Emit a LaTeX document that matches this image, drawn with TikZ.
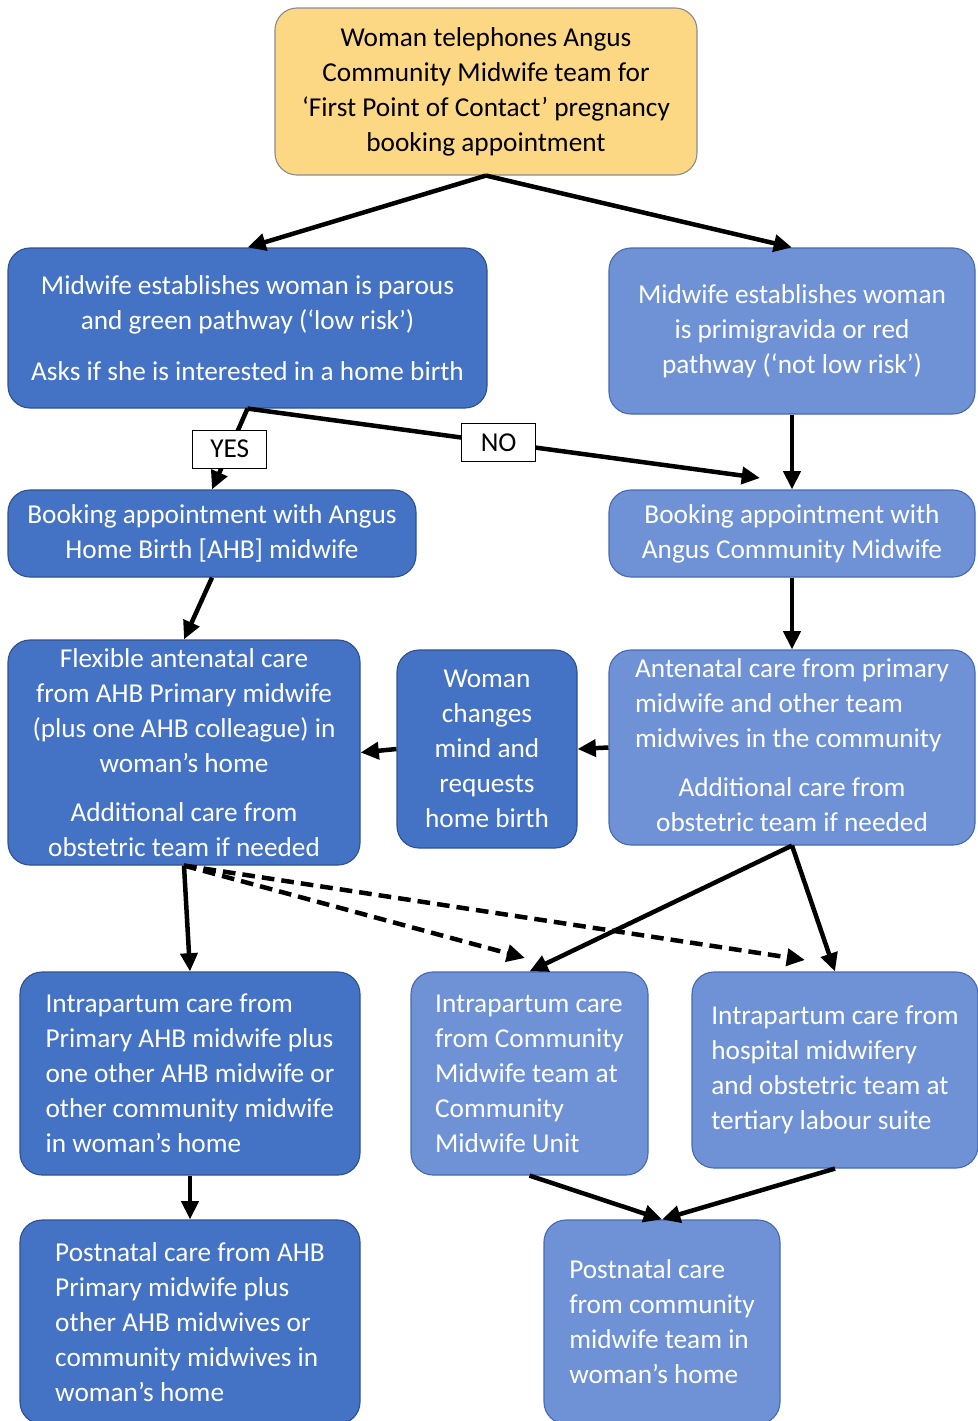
\documentclass[tikz,border=0pt]{standalone}
\usepackage{fontspec}
\setmainfont{Carlito}
\usetikzlibrary{arrows.meta}

\definecolor{startfill}{RGB}{253,216,132}
\definecolor{startline}{RGB}{140,140,140}
\definecolor{darkfill}{RGB}{68,114,196}
\definecolor{darkline}{RGB}{47,82,143}
\definecolor{lightfill}{RGB}{111,146,214}
\definecolor{lightline}{RGB}{72,106,176}

\begin{document}
\begin{tikzpicture}[
        x=0.025cm, y=-0.025cm,
        every node/.style={font=\fontsize{19.4}{24.9}\selectfont, inner sep=2pt},
        boxsize/.style 2 args={minimum width=#1*0.025cm, minimum height=#2*0.025cm},
        start/.style={rectangle, rounded corners=0.55cm, draw=startline, fill=startfill, text=black, align=center, line width=0.8pt},
        darkbox/.style={rectangle, rounded corners=0.55cm, draw=darkline, fill=darkfill, text=white, align=center, line width=0.8pt},
        lightbox/.style={rectangle, rounded corners=0.55cm, draw=lightline, fill=lightfill, text=white, align=center, line width=0.8pt},
        choice/.style={rectangle, draw, fill=white, text=black, line width=0.6pt, minimum width=1.85cm, minimum height=0.95cm},
        line/.style={line width=3.2pt, -{Triangle[length=13pt, width=12pt]}},
        dline/.style={line, dash pattern=on 9pt off 5pt}
    ]
        \useasboundingbox (0,0) rectangle (978,1421);

        % First contact
        \node[start, boxsize={422}{167}] (first) at (486,91.5) {Woman telephones Angus\\ Community Midwife team for\\ ‘First Point of Contact’ pregnancy\\ booking appointment};

        % Risk assessment
        \node[darkbox, boxsize={479}{160}] (parous) at (247.5,328) {Midwife establishes woman is parous\\ and green pathway (‘low risk’)\\[11pt] Asks if she is interested in a home birth};
        \node[lightbox, boxsize={366}{166}] (primi) at (792,331) {Midwife establishes woman\\ is primigravida or red\\ pathway (‘not low risk’)};

        % Booking
        \node[darkbox, boxsize={408}{87}] (bookahb) at (212,533.5) {Booking appointment with Angus\\ Home Birth [AHB] midwife};
        \node[lightbox, boxsize={366}{87}] (bookacm) at (792,533.5) {Booking appointment with\\ Angus Community Midwife};
        \coordinate (noend) at (760,478);

        % Antenatal
        \node[darkbox, boxsize={352}{225}] (flexible) at (184,752.5) {Flexible antenatal care\\ from AHB Primary midwife\\ (plus one AHB colleague) in\\ woman’s home\\[10pt] Additional care from\\ obstetric team if needed};
        \node[darkbox, boxsize={180}{198}] (changes) at (487,749) {Woman\\ changes\\ mind and\\ requests\\ home birth};
        \node[lightbox, boxsize={366}{195}, align=none] (antenatal) at (792,747.5) {\begin{tabular}{@{}l@{}}Antenatal care from primary\\ midwife and other team\\ midwives in the community\\[10pt] \multicolumn{1}{@{}c@{}}{Additional care from}\\ \multicolumn{1}{@{}c@{}}{obstetric team if needed}\end{tabular}};

        % Intrapartum
        \node[darkbox, boxsize={340}{203}, align=left] (intraahb) at (190,1073.5) {Intrapartum care from\\ Primary AHB midwife plus\\ one other AHB midwife or\\ other community midwife\\ in woman’s home};
        \node[lightbox, boxsize={237}{203}, align=left] (intracmu) at (529.5,1073.5) {Intrapartum care\\ from Community\\ Midwife team at\\ Community\\ Midwife Unit};
        \node[lightbox, boxsize={286}{196}, align=left] (intrahosp) at (835,1070) {Intrapartum care from\\ hospital midwifery\\ and obstetric team at\\ tertiary labour suite};
        \coordinate (dashcmu) at (525,958);
        \coordinate (dashhosp) at (805,960);

        % Postnatal
        \node[darkbox, boxsize={340}{204}, align=left] (postahb) at (190,1322) {Postnatal care from AHB\\ Primary midwife plus\\ other AHB midwives or\\ community midwives in\\ woman’s home};
        \node[lightbox, boxsize={236}{204}, align=left] (postcm) at (662,1322) {Postnatal care\\ from community\\ midwife team in\\ woman’s home};

        \draw[line] (first.south) -- (parous.north);
        \draw[line] (first.south) -- (primi.north);
        \draw[line] (parous.south) -- node[choice] (yes) {YES} (bookahb.north);
        \draw[line] (parous.south) -- node[choice, pos=0.49] (no) {NO} (noend);
        \draw[line] (primi.south) -- (bookacm.north);
        \draw[line] (bookahb.south) -- (flexible.north);
        \draw[line] (bookacm.south) -- (antenatal.north);
        \draw[line] (antenatal.west) -- (changes.east);
        \draw[line] (changes.west) -- (flexible.east);

        \draw[line] (flexible.south) -- (intraahb.north);
        \draw[dline] (flexible.south) -- (dashcmu);
        \draw[dline] (flexible.south) -- (dashhosp);
        \draw[line] (antenatal.south) -- (intracmu.north);
        \draw[line] (antenatal.south) -- (intrahosp.north);

        \draw[line] (intraahb.south) -- (postahb.north);
        \draw[line] (intracmu.south) -- (postcm.north);
        \draw[line] (intrahosp.south) -- (postcm.north);
    \end{tikzpicture}
\end{document}
